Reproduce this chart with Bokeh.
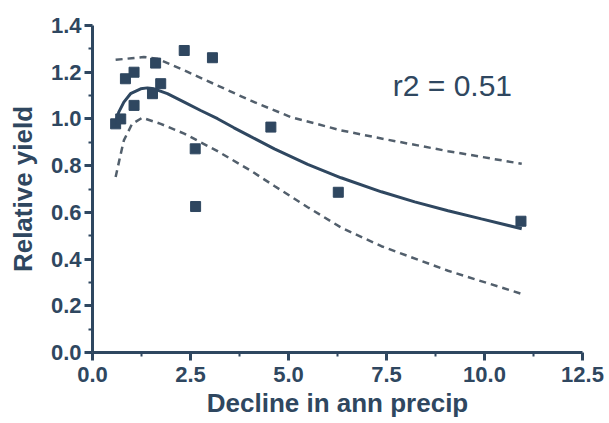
from bokeh.plotting import figure
from bokeh.models import Range1d, FixedTicker, Label
from bokeh.embed import file_html
from bokeh.resources import INLINE

# observed points
x_obs = [0.59, 0.72, 0.84, 1.06, 1.06, 1.61, 1.74, 1.53, 2.34, 3.06, 2.62, 2.63, 4.55, 6.27, 10.93]
y_obs = [0.979, 1.00, 1.172, 1.20, 1.058, 1.239, 1.151, 1.108, 1.293, 1.262, 0.872, 0.625, 0.965, 0.686, 0.562]

# fitted curve
fit_x = [0.59, 0.67, 0.80, 0.97, 1.23, 1.40, 1.57, 1.91, 2.34, 2.76, 3.19, 3.61, 4.04, 4.64, 5.49, 6.34, 7.37, 8.22, 9.07, 9.92, 10.95]
fit_y = [0.986, 1.029, 1.072, 1.108, 1.129, 1.133, 1.129, 1.108, 1.072, 1.036, 1.001, 0.962, 0.924, 0.872, 0.805, 0.748, 0.688, 0.645, 0.607, 0.572, 0.530]

# confidence band, upper
up_x = [0.59, 1.0, 1.31, 1.65, 2.34, 3.19, 4.04, 5.06, 6.34, 7.5, 9.07, 10.95]
up_y = [1.253, 1.260, 1.265, 1.258, 1.208, 1.143, 1.078, 1.008, 0.951, 0.912, 0.862, 0.808]

# confidence band, lower
lo_x = [0.59, 0.70, 0.80, 1.01, 1.27, 1.74, 2.34, 3.19, 4.04, 4.64, 5.49, 6.34, 7.37, 9.07, 10.95]
lo_y = [0.751, 0.835, 0.908, 0.979, 1.005, 0.979, 0.937, 0.862, 0.778, 0.713, 0.622, 0.535, 0.455, 0.350, 0.251]

x_ticks = [0.0, 2.5, 5.0, 7.5, 10.0, 12.5]
x_minor = [1.25, 3.75, 6.25, 8.75, 11.25]
y_ticks = [0.0, 0.2, 0.4, 0.6, 0.8, 1.0, 1.2, 1.4]
y_minor = [0.1, 0.3, 0.5, 0.7, 0.9, 1.1, 1.3]
r2_text = "r2 = 0.51"
x_title = "Decline in ann precip"
y_title = "Relative yield"

C = "#2f4760"
DASH = "#525f6c"
FONT = "Liberation Sans"

p = figure(width=609, height=423, x_range=Range1d(0, 12.5), y_range=Range1d(0, 1.4),
           output_backend="svg", toolbar_location=None,
           min_border_left=92, min_border_right=27, min_border_top=25, min_border_bottom=71)
p.outline_line_color = None
p.grid.visible = False
p.background_fill_color = "white"

p.xaxis.ticker = FixedTicker(ticks=x_ticks, minor_ticks=x_minor)
p.yaxis.ticker = FixedTicker(ticks=y_ticks, minor_ticks=y_minor)
p.xaxis.major_label_overrides = {t: f"{t:.1f}" for t in x_ticks}
p.yaxis.major_label_overrides = {t: f"{t:.1f}" for t in y_ticks}
p.xaxis.axis_label = x_title
p.yaxis.axis_label = y_title

for ax in (p.xaxis, p.yaxis):
    ax.axis_line_color = C
    ax.axis_line_width = 3
    ax.major_tick_line_color = C
    ax.major_tick_line_width = 3
    ax.major_tick_out = 8
    ax.major_tick_in = 0
    ax.minor_tick_line_color = C
    ax.minor_tick_line_width = 2
    ax.minor_tick_out = 4
    ax.minor_tick_in = 0
    ax.major_label_text_font = FONT
    ax.major_label_text_font_style = "bold"
    ax.major_label_text_font_size = "22px"
    ax.major_label_text_color = C
    ax.axis_label_text_font = FONT
    ax.axis_label_text_font_style = "bold"
    ax.axis_label_text_font_size = "26px"
    ax.axis_label_text_color = C

p.xaxis.major_label_standoff = 6
p.xaxis.axis_label_standoff = 3
p.yaxis.major_label_standoff = 3
p.yaxis.axis_label_standoff = 10

p.line(up_x, up_y, line_color=DASH, line_width=2.5, line_dash="7 5")
p.line(lo_x, lo_y, line_color=DASH, line_width=2.5, line_dash="7 5")
p.line(fit_x, fit_y, line_color=C, line_width=3)
p.scatter(x_obs, y_obs, marker="square", size=10, fill_color=C, line_color=C)

p.add_layout(Label(x=7.66, y=1.143, text=r2_text, text_font=FONT, text_font_size="30px",
                   text_color=C, text_baseline="alphabetic"))

open("out.html", "w").write(file_html(p, INLINE))
